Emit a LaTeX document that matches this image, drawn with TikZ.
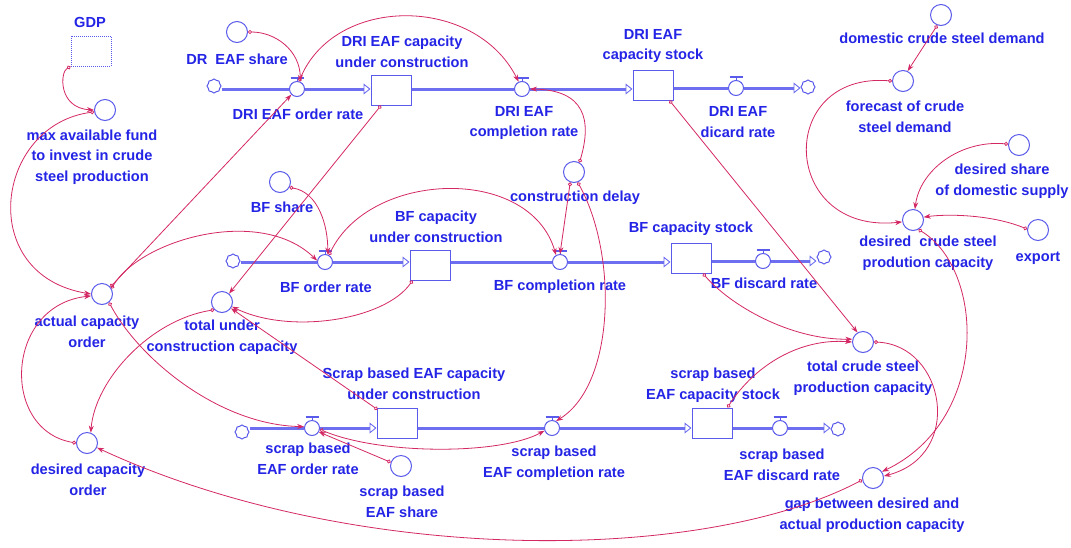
\documentclass[tikz,border=0pt]{standalone}
\usepackage{fontspec}
\setmainfont{Liberation Sans}
\usetikzlibrary{arrows.meta,shapes.symbols}
\definecolor{tblue}{RGB}{36,36,230}
\definecolor{sblue}{RGB}{90,90,235}
\definecolor{pblue}{RGB}{110,110,240}
\definecolor{cred}{RGB}{212,40,100}
\newcommand\valvecap[1]{%
  \draw[draw=sblue,line width=1pt] ([yshift=7.5pt]#1.center) -- ([yshift=10.5pt]#1.center);
  \draw[draw=sblue,line width=2pt] ([xshift=-6.5pt,yshift=11.5pt]#1.center) -- ([xshift=6.5pt,yshift=11.5pt]#1.center);}
\begin{document}
\begin{tikzpicture}[x=1pt,y=-1pt,
 txt/.style={font=\fontsize{14.6}{20.5}\selectfont\bfseries,text=tblue,align=center,inner sep=0pt},
 aux/.style={circle,draw=sblue,line width=1pt,minimum size=21pt,inner sep=0pt},
 valve/.style={circle,draw=sblue,line width=1pt,minimum size=15pt,inner sep=0pt},
 stock/.style={rectangle,draw=sblue,line width=1pt,minimum width=40pt,minimum height=30pt,inner sep=0pt},
 src/.style={cloud,cloud puffs=8,cloud puff arc=120,draw=sblue,line width=1pt,minimum width=14pt,minimum height=14pt,inner sep=0pt,aspect=1},
 pipe/.style={draw=pblue,line width=3pt},
 pipeend/.style={pipe,-{Triangle[open,length=7pt,width=11pt,line width=0.9pt]}},
 conn/.style={draw=cred,line width=0.8pt,{Circle[open,length=4pt,width=4pt]}-{Stealth[length=7pt,width=5pt]}},
]
\fill[white] (0,0) rectangle (1071,547);
\useasboundingbox (0,0) rectangle (1071,547);

% ---------- GDP ----------
\node[stock,dash pattern=on 1pt off 1pt] (gdp) at (91,51) {};
\node[txt] (gdpl) at (90,22) {GDP};
\node[aux] (maxf) at (105,110) {};
\node[txt] (maxfl) at (92,157) {max available fund\\to invest in crude\\steel production};

% ---------- DRI EAF chain ----------
\node[aux] (dreafshare) at (237,32) {};
\node[txt] (dreafsharel) at (237,59) {DR\ \ EAF share};
\node[src] (dsrc) at (214,86) {};
\node[valve] (dorder) at (297,89) {};
\node[txt] (dorderl) at (298,114) {DRI EAF order rate};
\node[stock] (dunder) at (391,90) {};
\node[txt] (dunderl) at (402,52) {DRI EAF capacity\\under construction};
\node[valve] (dcompl) at (522,89) {};
\node[txt] (dcompll) at (524,123) {DRI EAF\\completion rate};
\node[stock] (dstock) at (653,85) {};
\node[txt] (dstockl) at (653,46) {DRI EAF\\capacity stock};
\node[valve] (ddisc) at (736,88) {};
\node[txt] (ddiscl) at (738,122) {DRI EAF\\dicard rate};
\node[src] (ddst) at (808,87) {};

\draw[pipe] (dsrc.east |- dorder.west) -- (dorder.west);
\draw[pipeend] (dorder.east) -- (dorder.east -| dunder.west);
\draw[pipe] (dunder.east |- dcompl.west) -- (dcompl.west);
\draw[pipeend] (dcompl.east) -- (dcompl.east -| dstock.west);
\draw[pipe] (ddisc.west -| dstock.east) -- (ddisc.west);
\draw[pipeend] (ddisc.east) -- (ddisc.east -| ddst.west);

% ---------- BF chain ----------
\node[aux] (bfshare) at (280,182) {};
\node[txt] (bfsharel) at (282,207) {BF share};
\node[aux] (delay) at (574,172) {};
\node[txt] (delayl) at (575,198) {construction delay};
\node[src] (bsrc) at (233,261) {};
\node[valve] (border) at (325,262) {};
\node[txt] (borderl) at (326,287) {BF order rate};
\node[stock] (bunder) at (430,265) {};
\node[txt] (bunderl) at (436,227) {BF capacity\\under construction};
\node[valve] (bcompl) at (560,262) {};
\node[txt] (bcompll) at (560,287) {BF completion rate};
\node[stock] (bstock) at (691,258) {};
\node[txt] (bstockl) at (691,229) {BF capacity stock};
\node[valve] (bdisc) at (763,261) {};
\node[txt] (bdiscl) at (764,283) {BF discard rate};
\node[src] (bdst) at (824,257) {};

\draw[pipe] (bsrc.east |- border.west) -- (border.west);
\draw[pipeend] (border.east) -- (border.east -| bunder.west);
\draw[pipe] (bunder.east |- bcompl.west) -- (bcompl.west);
\draw[pipeend] (bcompl.east) -- (bcompl.east -| bstock.west);
\draw[pipe] (bdisc.west -| bstock.east) -- (bdisc.west);
\draw[pipeend] (bdisc.east) -- (bdisc.east -| bdst.west);

% ---------- scrap chain ----------
\node[src] (ssrc) at (242,432) {};
\node[valve] (sorder) at (312,428) {};
\node[txt] (sorderl) at (308,459) {scrap based\\EAF order rate};
\node[stock] (sunder) at (397,423) {};
\node[txt] (sunderl) at (414,384) {Scrap based EAF capacity\\under construction};
\node[valve] (scompl) at (552,428) {};
\node[txt] (scompll) at (554,463) {scrap based\\EAF completion rate};
\node[stock] (sstock) at (712,423) {};
\node[txt] (sstockl) at (713,385) {scrap based\\EAF capacity stock};
\node[valve] (sdisc) at (780,428) {};
\node[txt] (sdiscl) at (782,465) {scrap based\\EAF discard rate};
\node[src] (sdst) at (838,429) {};
\node[aux] (scrapshare) at (401,466) {};
\node[txt] (scrapsharel) at (402,502) {scrap based\\EAF share};

\draw[pipe] (ssrc.east |- sorder.west) -- (sorder.west);
\draw[pipeend] (sorder.east) -- (sorder.east -| sunder.west);
\draw[pipe] (sunder.east |- scompl.west) -- (scompl.west);
\draw[pipeend] (scompl.east) -- (scompl.east -| sstock.west);
\draw[pipe] (sdisc.west -| sstock.east) -- (sdisc.west);
\draw[pipeend] (sdisc.east) -- (sdisc.east -| sdst.west);

\foreach \v in {dorder,dcompl,ddisc,border,bcompl,bdisc,sorder,scompl,sdisc}{\valvecap{\v}}

% ---------- left auxiliaries ----------
\node[aux] (actual) at (102,294) {};
\node[txt] (actuall) at (87,332) {actual capacity\\order};
\node[aux] (totalu) at (222,302) {};
\node[txt] (totalul) at (222,337) {total under\\construction capacity};
\node[aux] (desired) at (87,443) {};
\node[txt] (desiredl) at (88,480) {desired capacity\\order};

% ---------- right auxiliaries ----------
\node[aux] (domestic) at (941,15) {};
\node[txt] (domesticl) at (942,38) {domestic crude steel demand};
\node[aux] (forecast) at (903,81) {};
\node[txt] (forecastl) at (905,117) {forecast of crude\\steel demand};
\node[aux] (desshare) at (1019,145) {};
\node[txt] (dessharel) at (1002,181) {desired share\\of domestic supply};
\node[aux] (descrude) at (913,220) {};
\node[txt] (descrudel) at (928,253) {desired\ \ crude steel\\prodution capacity};
\node[aux] (export) at (1038,230) {};
\node[txt] (exportl) at (1038,258) {export};
\node[aux] (totalc) at (863,342) {};
\node[txt] (totalcl) at (863,378) {total crude steel\\production capacity};
\node[aux] (gap) at (873,478) {};
\node[txt] (gapl) at (872,515) {gap between desired and\\actual production capacity};

% ---------- connectors ----------
\draw[conn] (gdp.south west) .. controls (60,72) and (58,108) .. (maxf.west);
\draw[conn] (maxf.190) .. controls (-5,125) and (-25,275) .. (actual.west);
\draw[conn] (actual.40) -- (dorder.225);
\draw[conn] ([xshift=-10pt]dunder.south) -- (totalu.50);
\draw[conn] (dreafshare.east) .. controls (275,32) and (300,50) .. (dorder.65);
\draw[conn] (dorder.75) .. controls (335,-5) and (475,-5) .. (dcompl.115);
\draw[conn] (delay.60) .. controls (592,120) and (585,90) .. (dcompl.east);
\draw[conn] (delay.250) -- (bcompl.north);
\draw[conn] (delay.290) .. controls (618,255) and (615,385) .. (scompl.60);
\draw[conn] (bfshare.-30) .. controls (318,192) and (328,225) .. (border.70);
\draw[conn] (border.60) .. controls (370,170) and (530,165) .. (bcompl.120);
\draw[conn] (actual.30) .. controls (140,240) and (260,205) .. (border.170);
\draw[conn] (actual.-50) .. controls (140,360) and (220,425) .. (sorder.170);
\draw[conn] (desired.west) .. controls (0,430) and (5,305) .. (actual.190);
\draw[conn] (totalu.225) .. controls (150,320) and (95,380) .. (desired.70);
\draw[conn] ([xshift=3pt]bunder.south west) .. controls (385,320) and (290,335) .. (totalu.-25);
\draw[conn] ([xshift=1pt,yshift=-2pt]sunder.north west) -- (totalu.-35);
\draw[conn] (sorder.-10) .. controls (380,455) and (500,455) .. (scompl.200);
\draw[conn] (scrapshare.160) -- (sorder.-30);
\draw[conn] ([xshift=-5pt]sstock.north east) .. controls (755,365) and (800,338) .. (totalc.west);
\draw[conn] ([xshift=12pt]bstock.south) .. controls (730,305) and (790,340) .. (totalc.165);
\draw[conn] ([xshift=-4pt]dstock.south east) -- (totalc.120);
\draw[conn] (totalc.east) .. controls (945,345) and (965,455) .. (gap.10);
\draw[conn] (descrude.-60) .. controls (985,270) and (990,420) .. (gap.35);
\draw[conn] (gap.190) .. controls (700,565) and (350,565) .. (desired.-25);
\draw[conn] (domestic.250) -- (forecast.65);
\draw[conn] (forecast.west) .. controls (775,72) and (780,235) .. (descrude.190);
\draw[conn] (desshare.175) .. controls (960,140) and (920,170) .. (descrude.80);
\draw[conn] (export.175) .. controls (990,214) and (945,214) .. (descrude.15);
\end{tikzpicture}
\end{document}
